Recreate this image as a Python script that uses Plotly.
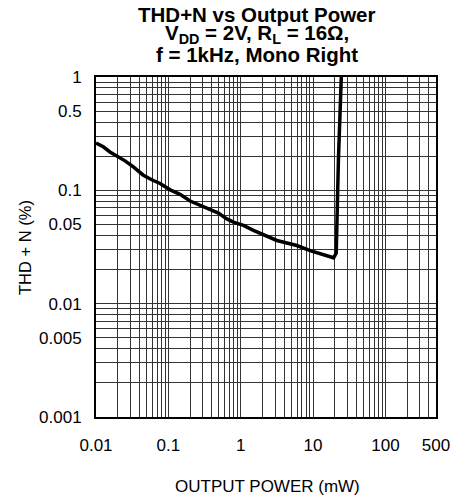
import plotly.graph_objects as go

# Data (Output power in mW, THD+N in %)
power_mw = [0.01, 0.0126, 0.0156, 0.0197, 0.0252, 0.0328, 0.0451, 0.0589, 0.0768,
            0.106, 0.145, 0.2, 0.305, 0.492, 0.643, 0.793, 1.09, 1.5, 3.16, 5.97,
            9.12, 13.9, 19.2, 20.9, 22.4, 24.9]
thd_pct = [0.262, 0.242, 0.218, 0.2, 0.182, 0.161, 0.136, 0.124, 0.115,
           0.101, 0.0922, 0.0804, 0.0722, 0.063, 0.056, 0.0524, 0.049, 0.0443, 0.0361, 0.0326,
           0.0294, 0.0271, 0.0254, 0.028, 0.184, 1.3]

x_tickvals = [0.01, 0.1, 1, 10, 100, 500]
x_ticktext = ["0.01", "0.1", "1", "10", "100", "500"]
y_tickvals = [0.001, 0.005, 0.01, 0.05, 0.1, 0.5, 1]
y_ticktext = ["0.001", "0.005", "0.01", "0.05", "0.1", "0.5", "1"]

x_minor = [m * 10 ** k for k in range(-2, 3) for m in range(2, 10) if m * 10 ** k <= 500]
y_minor = [m * 10 ** k for k in range(-3, 0) for m in range(2, 10)]

title_lines = [
    "THD+N vs Output Power",
    "V<sub>DD</sub> = 2V, R<sub>L</sub> = 16Ω,",
    "f = 1kHz, Mono Right",
]

FONT = "Liberation Sans, Arial, sans-serif"
GRID = "#333333"

# plot area in reference spans x 96-436, y 77-417 (page body margin removed below)
L, T, W, H = 96, 77, 340, 340
FIG_W, FIG_H = 455, 498


def px_x(px):
    return (px - L) / W


def px_y(py):
    return (T + H - py) / H


fig = go.Figure()
fig.add_trace(go.Scatter(x=power_mw, y=thd_pct, mode="lines",
                         line=dict(color="black", width=3.5), showlegend=False,
                         hoverinfo="skip"))

fig.update_layout(
    width=FIG_W, height=FIG_H,
    margin=dict(l=L, r=FIG_W - L - W, t=T, b=FIG_H - T - H, autoexpand=False),
    paper_bgcolor="white", plot_bgcolor="white",
    font=dict(family=FONT, color="black", size=16),
)

fig.update_xaxes(
    type="log", range=[-2, 2.69897],
    tickmode="array", tickvals=x_tickvals, ticktext=x_ticktext,
    showgrid=True, gridcolor=GRID, gridwidth=1,
    minor=dict(tickmode="array", tickvals=x_minor, showgrid=True, gridcolor=GRID, gridwidth=1),
    showline=True, linecolor="black", linewidth=2, mirror=True,
    ticks="", ticklabelstandoff=12, tickfont=dict(size=17),
    ticklabeloverflow="allow",
    zeroline=False,
)
fig.update_yaxes(
    type="log", range=[-3, 0],
    tickmode="array", tickvals=y_tickvals, ticktext=y_ticktext,
    showgrid=True, gridcolor=GRID, gridwidth=1,
    minor=dict(tickmode="array", tickvals=y_minor, showgrid=True, gridcolor=GRID, gridwidth=1),
    showline=True, linecolor="black", linewidth=2, mirror=True,
    ticks="", ticklabelstandoff=9, tickfont=dict(size=17),
    zeroline=False,
)

# Title lines (tightly spaced)
title_y_px = [14, 34, 54]
for txt, ypx in zip(title_lines, title_y_px):
    fig.add_annotation(text="<b>" + txt + "</b>", xref="paper", yref="paper",
                       x=px_x(257), y=px_y(ypx),
                       xanchor="center", yanchor="middle", showarrow=False,
                       font=dict(size=20.5, family=FONT, color="black"))

# Axis titles
fig.add_annotation(text="OUTPUT POWER (mW)", xref="paper", yref="paper",
                   x=px_x(267), y=px_y(486),
                   xanchor="center", yanchor="middle", showarrow=False,
                   font=dict(size=17, family=FONT, color="black"))
fig.add_annotation(text="THD + N (%)", xref="paper", yref="paper",
                   x=px_x(24.5), y=px_y(247.5), textangle=-90,
                   xanchor="center", yanchor="middle", showarrow=False,
                   font=dict(size=16.5, family=FONT, color="black"))

fig.write_html(
    "out.html",
    config={"displayModeBar": False, "staticPlot": True},
    post_script="document.body.style.margin='0px';document.body.style.overflow='hidden';",
)
